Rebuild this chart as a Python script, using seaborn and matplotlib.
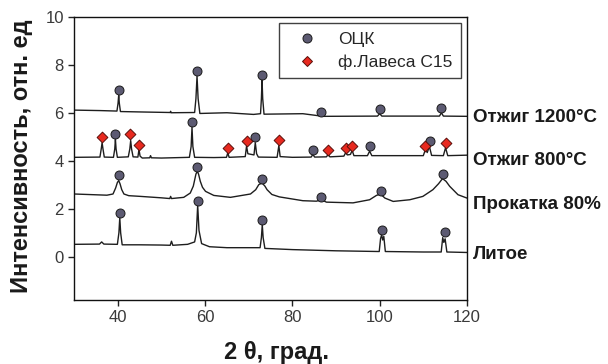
import pandas as pd
import seaborn as sns
import matplotlib.pyplot as plt
from matplotlib.lines import Line2D

# точки кривых (2θ, интенсивность)
cast = [(30, 0.52), (35.8, 0.53), (36.3, 0.62), (36.8, 0.53), (39.9, 0.52), (40.25, 1.0), (40.45, 1.63),
        (40.65, 1.0), (41.0, 0.5), (45, 0.5), (50, 0.49), (52.0, 0.48), (52.3, 0.65), (52.6, 0.48),
        (56, 0.52), (57.6, 0.62), (58.0, 1.0), (58.3, 2.15), (58.6, 1.1), (59.2, 0.55), (61, 0.42),
        (65, 0.38), (72.6, 0.38), (72.9, 0.8), (73.1, 1.34), (73.3, 0.8), (73.7, 0.35), (80, 0.3),
        (90, 0.25), (99.9, 0.22), (100.2, 0.75), (100.45, 0.92), (100.7, 0.7), (100.95, 0.85),
        (101.3, 0.22), (110, 0.2), (114.1, 0.2), (114.45, 0.8), (114.7, 0.6), (115.0, 0.75),
        (115.4, 0.2), (120, 0.18)]

rolled = [(30, 2.62), (37.5, 2.57), (38.9, 2.62), (39.5, 2.87), (39.9, 3.1), (40.2, 3.18), (40.5, 3.05),
          (40.9, 2.8), (41.4, 2.62), (42.5, 2.55), (45.2, 2.52), (50, 2.46), (51.9, 2.43), (52.1, 2.52),
          (52.3, 2.43), (55.1, 2.48), (56.6, 2.66), (57.3, 2.95), (57.9, 3.45), (58.2, 3.57), (58.5, 3.45),
          (58.9, 3.15), (59.4, 2.9), (60.1, 2.73), (62, 2.56), (65.8, 2.48), (70.4, 2.62), (71.6, 2.8),
          (72.3, 3.01), (73.05, 3.08), (73.7, 2.95), (74.2, 2.8), (75.3, 2.6), (77, 2.5), (82.4, 2.34),
          (85.5, 2.32), (86.65, 2.38), (87.8, 2.28), (93.9, 2.25), (97.7, 2.38), (99.25, 2.56),
          (100.2, 2.62), (101.2, 2.45), (103.1, 2.31), (106.9, 2.38), (109.9, 2.52), (112.2, 2.8),
          (113.5, 3.05), (114.4, 3.26), (115.2, 3.15), (116.05, 2.94), (117.95, 2.59), (120, 2.45)]

ann800 = [(30, 4.15), (35.9, 4.16), (36.2, 4.5), (36.4, 4.76), (36.6, 4.5), (36.9, 4.16), (39.0, 4.15),
          (39.3, 4.5), (39.45, 4.9), (39.6, 4.5), (39.9, 4.15), (42.4, 4.17), (42.75, 4.5), (42.95, 4.85),
          (43.15, 4.5), (43.5, 4.17), (44.6, 4.16), (44.85, 4.48), (45.1, 4.2), (45.6, 4.12), (47.3, 4.13),
          (47.5, 4.22), (47.7, 4.13), (50, 4.12), (56.4, 4.15), (56.8, 4.6), (57.0, 5.41), (57.2, 4.6),
          (57.6, 4.15), (62, 4.14), (64.9, 4.15), (65.2, 4.34), (65.5, 4.15), (69.2, 4.18), (69.5, 4.62),
          (69.8, 4.3), (71.2, 4.25), (71.5, 4.76), (71.8, 4.3), (72.2, 4.16), (76.5, 4.15), (76.9, 4.64),
          (77.2, 4.18), (80, 4.15), (84.3, 4.16), (84.7, 4.27), (85.1, 4.16), (87.8, 4.17), (88.2, 4.27),
          (88.6, 4.17), (91.8, 4.2), (92.2, 4.34), (92.6, 4.25), (93.3, 4.27), (93.7, 4.44), (94.1, 4.22),
          (97.2, 4.22), (97.7, 4.41), (98.2, 4.22), (110.0, 4.22), (110.5, 4.48), (110.9, 4.35),
          (111.4, 4.6), (111.9, 4.23), (114.6, 4.22), (115.1, 4.55), (115.6, 4.22), (120, 4.24)]

ann1200 = [(30, 6.12), (36, 6.1), (39.8, 6.08), (40.05, 6.4), (40.2, 6.74), (40.35, 6.4), (40.6, 6.06),
           (46, 6.04), (52, 6.02), (52.1, 6.07), (52.2, 6.01), (57.6, 6.02), (57.9, 6.6), (58.15, 7.54),
           (58.4, 6.6), (58.8, 5.98), (65, 6.01), (71.1, 5.94), (72.7, 5.97), (72.9, 6.6), (73.05, 7.38),
           (73.2, 6.6), (73.5, 5.95), (82.4, 5.97), (86.2, 5.88), (86.65, 5.95), (87.1, 5.86),
           (99.5, 5.87), (100.0, 5.97), (100.5, 5.87), (113.7, 5.87), (114.15, 6.01), (114.6, 5.87),
           (120, 5.86)]

curves = [cast, rolled, ann800, ann1200]
curve_names = ['Литое', 'Прокатка 80%', 'Отжиг 800°C', 'Отжиг 1200°C']
name_y = [0.08, 2.18, 4.02, 5.8]

# пики ОЦК (кружки) и фазы Лавеса (ромбы)
bcc_x = [40.45, 58.3, 73.1, 100.6, 114.9,
         40.2, 58.2, 73.05, 86.65, 100.2, 114.4,
         39.45, 57.0, 71.5, 84.7, 97.7, 111.5,
         40.2, 58.15, 73.05, 86.65, 100.0, 114.15]
bcc_y = [1.84, 2.34, 1.53, 1.13, 1.03,
         3.4, 3.75, 3.26, 2.5, 2.76, 3.46,
         5.13, 5.63, 5.0, 4.45, 4.62, 4.82,
         6.96, 7.75, 7.57, 6.05, 6.18, 6.22]
laves_x = [36.4, 42.9, 44.95, 65.2, 69.6, 76.9, 88.2, 92.2, 93.7, 110.5, 115.1]
laves_y = [4.99, 5.13, 4.66, 4.52, 4.82, 4.87, 4.44, 4.55, 4.64, 4.62, 4.73]

sns.set_style('ticks')
plt.rcParams['font.family'] = ['Liberation Sans', 'DejaVu Sans']

fig, ax = plt.subplots(figsize=(6.08, 3.64), dpi=100)
fig.subplots_adjust(left=0.122, right=0.768, top=0.953, bottom=0.176)

for c in curves:
    df = pd.DataFrame(c, columns=['x', 'y'])
    sns.lineplot(data=df, x='x', y='y', ax=ax, sort=False, estimator=None,
                 color='#1e1e1e', lw=1.0)

circ = '#5c5a72'
red = '#e8291f'
sns.scatterplot(x=bcc_x, y=bcc_y, ax=ax, marker='o', s=42, color=circ,
                edgecolor='#1a1a1a', linewidth=0.7, zorder=3)
sns.scatterplot(x=laves_x, y=laves_y, ax=ax, marker='D', s=30, color=red,
                edgecolor='#5a0f0a', linewidth=0.7, zorder=4)

for name, yy in zip(curve_names, name_y):
    ax.text(121.3, yy, name, fontsize=13.5, fontweight='bold', va='center', ha='left',
            color='#1a1a1a', clip_on=False)

ax.set_xlim(30, 120)
ax.set_ylim(-1.8, 10)
ax.set_xticks([40, 60, 80, 100, 120])
ax.set_yticks([0, 2, 4, 6, 8, 10])
ax.tick_params(direction='out', length=4, width=1, labelsize=12, labelcolor='#3a3a3a',
               color='#222222')
for sp in ax.spines.values():
    sp.set_visible(True)
    sp.set_color('#111111')
    sp.set_linewidth(1)

ax.set_xlabel('2 θ, град.', fontsize=17, fontweight='bold', color='#1a1a1a')
ax.set_ylabel('Интенсивность, отн. ед', fontsize=17, fontweight='bold', color='#1a1a1a')
ax.xaxis.set_label_coords(0.516, -0.145)
ax.yaxis.set_label_coords(-0.105, 0.51)

handles = [Line2D([], [], ls='', marker='o', ms=6.5, mfc=circ, mec='#1a1a1a', mew=0.7),
           Line2D([], [], ls='', marker='D', ms=5.5, mfc=red, mec='#5a0f0a', mew=0.7)]
leg = ax.legend(handles, ['ОЦК', 'ф.Лавеса С15'], loc='upper right',
                bbox_to_anchor=(0.986, 0.978), borderaxespad=0, fontsize=12.5,
                frameon=True, fancybox=False, edgecolor='#111111',
                handletextpad=0.7, borderpad=0.5, labelspacing=0.4, handlelength=2.2)
leg.get_frame().set_linewidth(1)

fig.savefig('out.png', dpi=100)
